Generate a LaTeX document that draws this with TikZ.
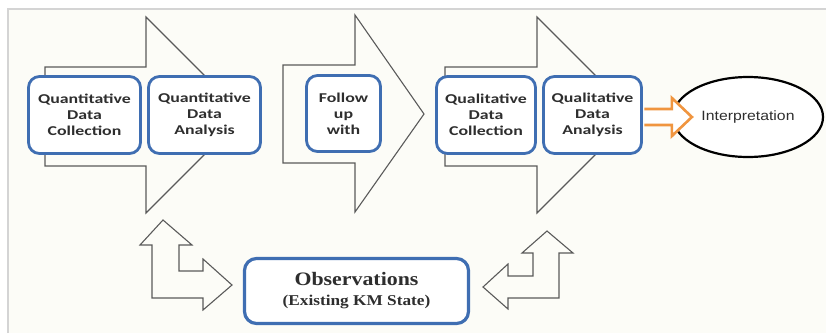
\documentclass[tikz,border=0pt]{standalone}
\usepackage{fontspec}
\usetikzlibrary{calc,shapes.geometric}
\newfontfamily\boxfont[FakeStretch=1.32]{Carlito}
\newfontfamily\interpfont[FakeStretch=1.17]{Liberation Sans}
\newfontfamily\obsfont[FakeStretch=1.15]{Liberation Serif}
\definecolor{boxblue}{HTML}{3F6EB2}
\definecolor{arrowgray}{HTML}{5A5A5A}
\definecolor{textgray}{HTML}{2E2E2E}
\definecolor{paper}{HTML}{FCFCF7}
\definecolor{framegray}{HTML}{D4D4D4}
\definecolor{orangeline}{HTML}{F0953F}
\begin{document}
\begin{tikzpicture}[x=1pt,y=-1pt,
  stagebox/.style={draw=boxblue, line width=2.8pt, fill=white, rounded corners=11pt,
    align=center, inner sep=0pt, text=textgray,
    font=\boxfont\bfseries\fontsize{13.5}{16}\selectfont},
  bigarrow/.style={draw=arrowgray, line width=1.1pt, fill=paper, line join=miter},
  loop/.style={draw=arrowgray, line width=1.1pt, fill=paper, line join=miter},
  flowarrow/.style={draw=orangeline, line width=2.6pt, fill=white, line join=miter}]
\useasboundingbox (0,0) rectangle (826,333);
% page and frame
\fill[white] (0,0) rectangle (826,333);
\fill[paper] (8,9) rectangle (826,333);
\draw[framegray, line width=1.2pt] (8,333) -- (8,9) -- (826,9);

% large block arrows behind the stages
\draw[bigarrow] (45,67) -- (146,67) -- (146,17) -- (244,115) -- (146,213) -- (146,166) -- (45,166) -- cycle;
\draw[bigarrow] (283,65) -- (355,65) -- (355,15) -- (424,114) -- (355,212) -- (355,163) -- (283,163) -- cycle;
\draw[bigarrow] (445,67) -- (537,67) -- (537,17) -- (635,115) -- (537,213) -- (537,166) -- (445,166) -- cycle;

% stages
\node[stagebox, minimum width=112, minimum height=77] (QnC) at (84.5,115) {Quantitative\\Data\\Collection};
\node[stagebox, minimum width=112, minimum height=77] (QnA) at (204.5,115) {Quantitative\\Data\\Analysis};
\node[stagebox, minimum width=74, minimum height=76] (Fol) at (343.5,113.5) {Follow\\up\\with};
\node[stagebox, minimum width=99, minimum height=77] (QlC) at (486,115) {Qualitative\\Data\\Collection};
\node[stagebox, minimum width=98, minimum height=77] (QlA) at (592.5,115) {Qualitative\\Data\\Analysis};

% interpretation
\node[ellipse, draw=black, line width=2.2pt, fill=white, inner sep=0pt,
  minimum width=150, minimum height=80, text=textgray,
  font=\interpfont\fontsize{13.5}{16}\selectfont] (Interp) at (748,117) {Interpretation};

% observations
\node[draw=boxblue, line width=3.2pt, fill=white, rounded corners=12pt, align=center,
  inner sep=0pt, minimum width=224, minimum height=65, text=textgray,
  font=\obsfont\bfseries\fontsize{19}{20}\selectfont] (Obs) at (356.5,291)
  {Observations\\{\fontsize{15}{20}\selectfont (Existing KM State)}};

% analysis leads to interpretation
\path[flowarrow]
  ($(QlA.east |- Interp.west)+(1.4,-8)$) -- ($(Interp.west)+(0,-8)$) -- ($(Interp.west)+(0,-19)$)
  -- ($(Interp.west)+(20,0)$) -- ($(Interp.west)+(0,19)$) -- ($(Interp.west)+(0,8)$)
  -- ($(QlA.east |- Interp.west)+(1.4,8)$);

% two-way links with the observations
\draw[loop] (163,220) -- (192,245) -- (179,245) -- (179,271) -- (203,271) -- (203,259)
  -- (232,285) -- (203,310) -- (203,298) -- (152,298) -- (152,245) -- (140,245) -- cycle;
\draw[loop] (547,231) -- (573,253) -- (559,253) -- (559,298) -- (508,298) -- (508,309)
  -- (483,287) -- (508,264) -- (508,276) -- (533,276) -- (533,253) -- (522,253) -- cycle;
\end{tikzpicture}
\end{document}
